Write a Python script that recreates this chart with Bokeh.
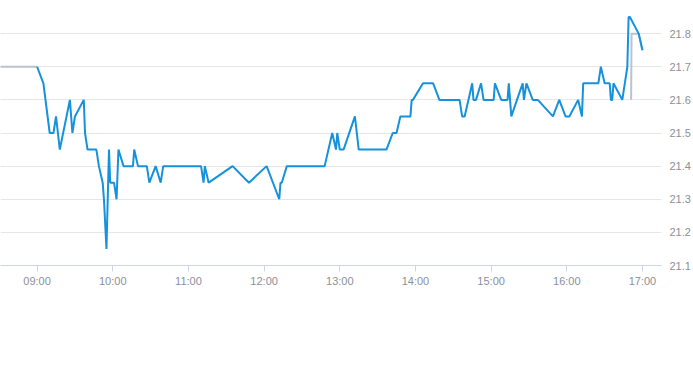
import pandas as pd
from bokeh.plotting import figure
from bokeh.models import FixedTicker, DatetimeTickFormatter, Range1d
from bokeh.embed import file_html
from bokeh.resources import INLINE

DAY = "2024-01-02 "

# main price series (blue)
price_times = [
    "09:00", "09:05", "09:10", "09:13", "09:15", "09:18", "09:26", "09:28", "09:30", "09:37",
    "09:38", "09:40", "09:47", "09:49", "09:52", "09:53", "09:55", "09:57", "09:58", "10:01",
    "10:03", "10:04:30", "10:08:30", "10:16", "10:17", "10:20", "10:27", "10:29", "10:34", "10:38",
    "10:40", "11:10", "11:12", "11:13", "11:16", "11:35", "11:48", "12:02", "12:12", "12:13",
    "12:14", "12:18", "12:48", "12:54", "12:57", "12:58", "13:00", "13:03", "13:12", "13:15",
    "13:37", "13:42", "13:45", "13:48", "13:56", "13:57", "13:58", "14:06", "14:14", "14:19",
    "14:35", "14:37", "14:39", "14:45", "14:46", "14:48", "14:52", "14:54", "15:02", "15:03",
    "15:08", "15:13", "15:14", "15:16", "15:25", "15:26", "15:28", "15:33", "15:37", "15:49",
    "15:54", "15:59", "16:02", "16:09", "16:12", "16:13", "16:25", "16:27", "16:30", "16:34",
    "16:35", "16:36", "16:37", "16:44", "16:46", "16:48", "16:49", "16:50", "16:57", "17:00",
]
price_values = [
    21.70, 21.65, 21.50, 21.50, 21.55, 21.45, 21.60, 21.50, 21.55, 21.60,
    21.50, 21.45, 21.45, 21.40, 21.35, 21.30, 21.15, 21.45, 21.35, 21.35,
    21.30, 21.45, 21.40, 21.40, 21.45, 21.40, 21.40, 21.35, 21.40, 21.35,
    21.40, 21.40, 21.35, 21.40, 21.35, 21.40, 21.35, 21.40, 21.30, 21.35,
    21.35, 21.40, 21.40, 21.50, 21.45, 21.50, 21.45, 21.45, 21.55, 21.45,
    21.45, 21.50, 21.50, 21.55, 21.55, 21.60, 21.60, 21.65, 21.65, 21.60,
    21.60, 21.55, 21.55, 21.65, 21.60, 21.60, 21.65, 21.60, 21.60, 21.65,
    21.60, 21.60, 21.65, 21.55, 21.65, 21.60, 21.65, 21.60, 21.60, 21.55,
    21.60, 21.55, 21.55, 21.60, 21.55, 21.65, 21.65, 21.70, 21.65, 21.65,
    21.60, 21.60, 21.65, 21.60, 21.65, 21.70, 21.85, 21.85, 21.80, 21.75,
]

# grey reference series: pre-open level and closing auction
pre_times = ["08:30", "09:00"]
pre_values = [21.70, 21.70]
close_times = ["16:51", "16:51:20", "16:57", "17:00"]
close_values = [21.60, 21.80, 21.80, 21.75]

x_tick_labels = ["09:00", "10:00", "11:00", "12:00", "13:00", "14:00", "15:00", "16:00", "17:00"]
y_ticks = [21.1, 21.2, 21.3, 21.4, 21.5, 21.6, 21.7, 21.8]


def ts(lst):
    return pd.to_datetime([DAY + t for t in lst], format="mixed")


x_start = pd.Timestamp(DAY + "08:30:59")
x_end = pd.Timestamp(DAY + "17:15:05")

p = figure(width=693, height=350, x_axis_type="datetime", y_axis_location="right",
           output_backend="svg", toolbar_location=None,
           x_range=Range1d(x_start, x_end), y_range=Range1d(21.1, 21.9),
           min_border_left=0, min_border_top=0, min_border_right=30, min_border_bottom=85)
p.outline_line_color = None
p.background_fill_color = "white"
p.border_fill_color = "white"

p.line(ts(pre_times), pre_values, line_color="#b9c3cd", line_width=2)
p.line(ts(close_times), close_values, line_color="#b9c3cd", line_width=2)
p.line(ts(price_times), price_values, line_color="#1592db", line_width=2)

font = "Liberation Sans"
lab_col = "#8a9099"

xa = p.xaxis[0]
xa.ticker = FixedTicker(ticks=[pd.Timestamp(DAY + t).value / 1e6 for t in x_tick_labels])
xa.formatter = DatetimeTickFormatter(hours="%H:%M", minutes="%H:%M", days="%H:%M")
xa.axis_line_color = "#ccd6eb"
xa.major_tick_line_color = "#ccd6eb"
xa.major_tick_in = 0
xa.major_tick_out = 6
xa.minor_tick_line_color = None
xa.major_label_text_font = font
xa.major_label_text_font_size = "11px"
xa.major_label_text_color = lab_col
xa.major_label_standoff = 3

ya = p.yaxis[0]
ya.ticker = FixedTicker(ticks=y_ticks)
ya.axis_line_color = None
ya.major_tick_line_color = None
ya.minor_tick_line_color = None
ya.major_tick_in = 0
ya.major_tick_out = 0
ya.major_label_text_font = font
ya.major_label_text_font_size = "11px"
ya.major_label_text_color = lab_col
ya.major_label_standoff = 8

p.xgrid.grid_line_color = None
p.ygrid.ticker = FixedTicker(ticks=y_ticks)
p.ygrid.grid_line_color = "#e6e6e6"
p.ygrid.grid_line_width = 1

open("out.html", "w").write(file_html(p, INLINE))
